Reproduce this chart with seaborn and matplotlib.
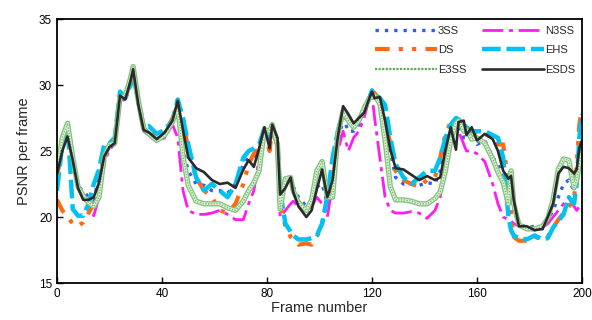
import matplotlib
matplotlib.use("Agg")
import numpy as np
import pandas as pd
import seaborn as sns
from matplotlib import pyplot as plt
from matplotlib.lines import Line2D

frames = [0, 2, 4, 6, 8, 10, 12, 14, 16, 18, 20, 22, 24, 26, 28, 29, 31, 33, 35, 38,
          41, 44, 46, 48, 50, 53, 56, 59, 62, 65, 68, 71, 73, 75, 77, 79, 81, 82, 84, 85,
          87, 89, 90, 92, 95, 97, 99, 101, 103, 105, 107, 109, 111, 113, 115, 117, 119, 120, 121, 123,
          125, 127, 129, 132, 135, 138, 141, 144, 146, 148, 150, 152, 153, 155, 156, 158, 160, 163, 166, 168,
          170, 172, 173, 174, 176, 179, 182, 185, 187, 189, 191, 193, 195, 197, 198, 199, 200]

psnr_3ss = [23.5, 26.0, 27.0, 24.5, 22.3, 22.0, 21.5, 21.3, 23.0, 24.5, 25.0, 25.8, 29.0, 29.0, 30.2, 31.0, 28.6, 26.6, 26.4, 25.9,
            26.3, 27.0, 28.5, 25.0, 23.5, 22.5, 22.4, 22.0, 22.0, 21.8, 22.5, 24.0, 24.5, 24.6, 25.0, 26.6, 25.8, 27.0, 25.5, 21.5,
            22.5, 22.8, 22.3, 21.5, 20.8, 21.2, 22.3, 22.5, 21.0, 23.0, 25.5, 27.5, 26.5, 26.5, 27.0, 28.0, 29.0, 29.3, 29.2, 28.5,
            27.0, 25.0, 23.0, 22.5, 22.5, 22.4, 22.6, 22.5, 23.5, 25.5, 26.5, 26.8, 27.0, 26.0, 26.0, 26.0, 25.5, 25.8, 24.5, 24.0,
            23.0, 22.0, 21.5, 20.5, 19.5, 19.2, 19.3, 19.1, 19.8, 20.5, 21.5, 22.5, 22.8, 22.0, 22.5, 24.5, 25.5]

psnr_n3ss = [22.5, 25.5, 26.6, 24.5, 22.5, 21.5, 20.8, 20.1, 21.5, 24.0, 25.2, 25.5, 29.0, 28.8, 30.0, 31.0, 28.5, 26.5, 26.2, 25.7,
             26.0, 27.0, 26.0, 22.0, 20.5, 20.2, 20.2, 20.3, 20.5, 20.2, 19.8, 19.8, 21.0, 22.0, 24.5, 26.5, 26.0, 26.8, 25.0, 20.0,
             20.5, 21.0, 21.2, 20.8, 20.5, 20.8, 21.5, 21.0, 20.0, 22.5, 25.0, 26.5, 25.0, 26.0, 26.5, 27.5, 29.0, 29.3, 27.5, 24.5,
             21.5, 20.5, 20.3, 20.3, 20.4, 20.3, 19.9, 20.5, 21.5, 24.0, 26.5, 26.8, 26.5, 25.5, 25.0, 25.0, 24.8, 24.2, 22.5, 21.0,
             20.0, 19.8, 19.7, 19.5, 19.3, 19.2, 19.0, 19.2, 19.5, 20.0, 20.5, 21.0, 21.5, 20.8, 20.5, 20.8, 21.0]

psnr_ds = [21.3, 20.5, 20.0, 19.5, 19.3, 19.6, 20.3, 21.0, 22.5, 24.8, 25.4, 25.8, 29.2, 29.0, 30.2, 31.0, 28.6, 26.8, 26.5, 26.0,
           26.3, 27.5, 28.5, 27.5, 25.0, 23.0, 22.0, 21.5, 20.5, 20.3, 21.0, 22.5, 24.0, 24.8, 25.2, 26.5, 25.0, 26.8, 25.0, 21.0,
           19.3, 18.5, 18.3, 17.9, 18.0, 17.9, 18.5, 19.5, 21.5, 24.0, 26.3, 28.0, 27.5, 27.0, 27.4, 28.3, 29.0, 29.5, 29.4, 28.8,
           27.5, 25.5, 23.5, 22.8, 22.5, 22.3, 22.8, 23.0, 24.5, 26.3, 27.2, 27.5, 27.3, 26.8, 26.5, 26.3, 26.3, 26.3, 26.0, 25.5,
           25.5, 22.5, 20.0, 18.5, 18.2, 18.2, 18.5, 18.3, 18.5, 19.2, 19.8, 20.3, 20.8, 21.3, 24.0, 27.0, 28.2]

psnr_ehs = [22.0, 25.5, 27.0, 20.6, 20.1, 20.1, 21.0, 22.5, 23.6, 25.5, 25.6, 26.0, 29.5, 29.0, 30.0, 30.8, 28.8, 26.8, 26.9, 26.3,
            26.6, 27.3, 28.9, 27.5, 25.5, 23.0, 22.0, 22.5, 22.0, 21.5, 22.5, 24.5, 25.0, 25.2, 25.5, 26.7, 26.2, 26.8, 25.5, 22.0,
            19.5, 18.9, 18.6, 18.3, 18.3, 18.4, 18.6, 19.5, 21.5, 24.5, 26.5, 28.0, 27.3, 26.8, 27.3, 28.2, 29.0, 29.6, 29.3, 29.0,
            28.5, 26.0, 24.0, 23.0, 22.5, 23.0, 23.5, 23.5, 24.5, 26.0, 27.0, 27.5, 27.4, 27.0, 26.8, 26.5, 26.5, 26.5, 26.2, 26.0,
            24.5, 20.0, 19.0, 18.6, 18.4, 18.3, 18.6, 18.3, 18.4, 19.2, 19.7, 20.2, 21.5, 21.0, 22.5, 26.0, 27.8]

psnr_e3ss = [23.3, 26.0, 27.1, 24.5, 22.3, 21.6, 21.1, 20.8, 21.5, 24.6, 25.5, 25.6, 29.0, 29.2, 30.5, 31.4, 28.8, 26.7, 26.3, 25.8,
             26.2, 27.2, 28.4, 24.6, 22.4, 21.2, 21.0, 21.0, 21.0, 20.7, 20.5, 21.2, 22.0, 22.6, 23.5, 26.6, 26.5, 27.0, 25.5, 20.6,
             22.9, 23.0, 22.0, 21.1, 20.5, 21.3, 23.5, 24.2, 21.5, 21.5, 26.3, 28.0, 27.3, 26.8, 27.3, 28.2, 29.0, 29.1, 29.2, 28.6,
             25.8, 22.3, 21.3, 21.3, 21.2, 21.0, 21.0, 21.4, 21.9, 23.5, 25.8, 27.1, 27.3, 26.5, 26.6, 25.9, 26.0, 25.6, 24.4, 23.4,
             22.6, 21.0, 23.5, 21.0, 19.4, 19.1, 19.1, 19.3, 19.9, 21.3, 23.6, 24.4, 24.3, 22.2, 22.8, 24.0, 24.8]

psnr_esds = [23.2, 25.0, 26.1, 24.3, 22.2, 21.3, 21.3, 21.5, 22.6, 24.6, 25.3, 25.6, 29.2, 28.9, 30.3, 31.2, 28.5, 26.6, 26.4, 25.9,
             26.4, 27.3, 28.8, 26.6, 24.5, 23.7, 23.4, 22.8, 22.5, 22.6, 22.2, 23.6, 24.3, 23.8, 25.2, 26.8, 25.2, 27.0, 26.0, 21.7,
             22.2, 23.0, 21.9, 20.8, 20.0, 20.5, 22.1, 23.6, 21.5, 22.8, 26.1, 28.4, 27.8, 27.1, 27.5, 27.9, 29.0, 29.5, 29.0, 29.1,
             27.3, 25.1, 23.7, 23.6, 23.2, 22.8, 23.1, 22.8, 23.0, 25.1, 26.8, 25.1, 27.2, 27.3, 26.2, 26.8, 25.8, 26.3, 25.9, 25.0,
             23.5, 22.9, 23.1, 21.3, 19.3, 19.3, 19.0, 19.1, 20.0, 21.0, 23.3, 23.8, 23.7, 23.3, 23.6, 25.2, 25.8]

sns.set_theme(style="ticks")
plt.rcParams["font.family"] = ["Liberation Sans", "DejaVu Sans"]

fig = plt.figure(figsize=(5.92, 3.2), dpi=100)
ax = fig.add_axes([0.0963, 0.1156, 0.8867, 0.825])

sns.lineplot(x=frames, y=psnr_3ss, ax=ax, color="#2f5fe8", linewidth=2.4,
             linestyle=(0, (1.0, 1.8)), label="3SS")
sns.lineplot(x=frames, y=psnr_n3ss, ax=ax, color="#ff1cf0", linewidth=2.0,
             linestyle=(0, (7.5, 2.0, 1.5, 2.0)), label="N3SS")
sns.lineplot(x=frames, y=psnr_ds, ax=ax, color="#ff6a10", linewidth=3.0,
             linestyle=(0, (3.5, 2.2, 1.0, 2.2, 1.0, 2.2)), label="DS")
sns.lineplot(x=frames, y=psnr_ehs, ax=ax, color="#00c2f2", linewidth=3.2,
             linestyle=(0, (4.2, 1.3)), label="EHS")
# E3SS is a hatched band: light green edges, pale inside, dotted core
sns.lineplot(x=frames, y=psnr_e3ss, ax=ax, color="#7fc27a", linewidth=3.8)
sns.lineplot(x=frames, y=psnr_e3ss, ax=ax, color="#e2f3dd", linewidth=1.9)
sns.lineplot(x=frames, y=psnr_e3ss, ax=ax, color="#78bb72", linewidth=1.0,
             linestyle=(0, (1, 1)))
sns.lineplot(x=frames, y=psnr_esds, ax=ax, color="#2a2a2a", linewidth=1.9, label="ESDS")

lines = {l.get_label(): l for l in ax.get_lines()}
e3ss_handle = Line2D([], [], color="#5ea95a", linewidth=1.6, linestyle=(0, (1, 0.6)))
handles = [lines["3SS"], lines["DS"], e3ss_handle, lines["N3SS"], lines["EHS"], lines["ESDS"]]
labels = ["3SS", "DS", "E3SS", "N3SS", "EHS", "ESDS"]
ax.legend(handles, labels, ncol=2, loc="upper right", frameon=False,
          fontsize=8, handlelength=5.6, handletextpad=0.1, columnspacing=1.4,
          labelspacing=0.85, borderaxespad=0.2, bbox_to_anchor=(1.0, 1.0))

ax.set_xlim(0, 200)
ax.set_ylim(15, 35)
ax.set_xticks([0, 40, 80, 120, 160, 200])
ax.set_yticks([15, 20, 25, 30, 35])
ax.tick_params(direction="in", length=4, width=1, labelsize=8.5, colors="black")
for side in ["left", "bottom", "top", "right"]:
    ax.spines[side].set_visible(True)
    ax.spines[side].set_linewidth(1.3)
    ax.spines[side].set_color("black")
ax.set_xlabel("Frame number", fontsize=10.5, labelpad=1)
ax.set_ylabel("PSNR per frame", fontsize=10.5, labelpad=6)

fig.savefig("out.png", dpi=100)
